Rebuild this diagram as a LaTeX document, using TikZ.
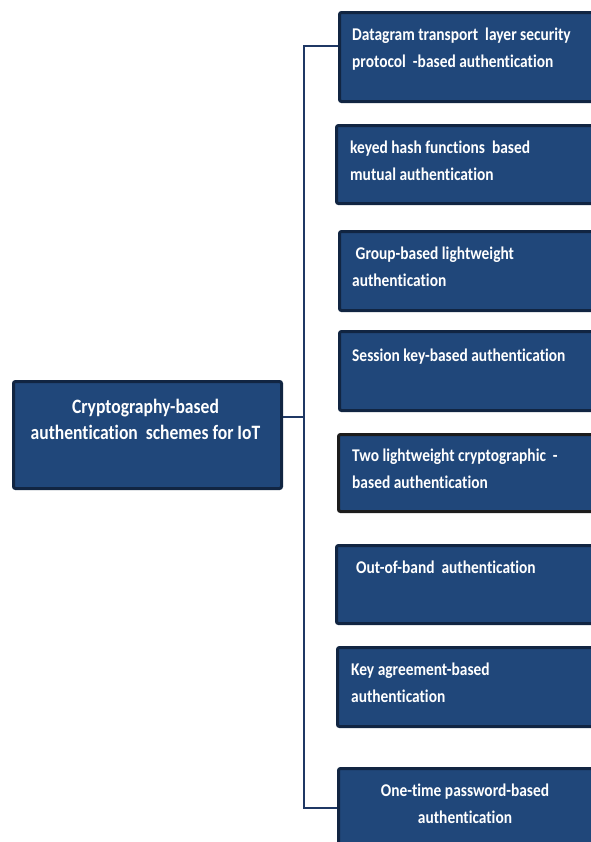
\documentclass[tikz,border=0pt]{standalone}
\usepackage{fontspec}
\setmainfont{Carlito}[FakeStretch=0.86,Ligatures=NoCommon]
\usetikzlibrary{calc}
\definecolor{boxfill}{RGB}{32,71,122}
\definecolor{boxedge}{RGB}{17,37,66}
\definecolor{darkedge}{RGB}{28,28,28}
\definecolor{linecol}{RGB}{31,56,100}
\tikzset{
  box/.style={draw=boxedge, line width=3bp, fill=boxfill, rounded corners=2bp, anchor=north west, inner sep=0pt},
  txt/.style={text=white, font=\bfseries\fontsize{18}{27}\selectfont, inner sep=0pt, align=left, anchor=north west},
  ctxt/.style={text=white, font=\bfseries\fontsize{18}{27}\selectfont, inner sep=0pt, align=center},
  rtxt/.style={text=white, font=\bfseries\fontsize{20.5}{26}\selectfont, inner sep=0pt, align=center},
  conn/.style={draw=linecol, line width=1.2bp}
}
\begin{document}
\begin{tikzpicture}[x=1bp,y=1bp]
\useasboundingbox (0,0) rectangle (591,-842);
\clip (0,0) rectangle (591,-842);
% root
\node[box, minimum width=268bp, minimum height=107bp] (root) at (12,-380) {};
\node[rtxt] (troot) at (145.5,-419) {Cryptography-based\\authentication\ \ schemes for IoT};
% right boxes
\node[box, minimum width=300bp, minimum height=89bp] (b1) at (338,-11) {};
\node[box, minimum width=300bp, minimum height=78bp] (b2) at (335,-124) {};
\node[box, minimum width=300bp, minimum height=79bp] (b3) at (338,-230) {};
\node[box, minimum width=300bp, minimum height=79bp] (b4) at (338,-330) {};
\node[box, draw=darkedge, minimum width=300bp, minimum height=77bp] (b5) at (337,-433) {};
\node[box, minimum width=300bp, minimum height=78bp] (b6) at (335,-544) {};
\node[box, minimum width=300bp, minimum height=79bp] (b7) at (336,-646) {};
\node[box, minimum width=300bp, minimum height=90bp] (b8) at (337,-767) {};
% texts
\node[txt] (t1) at (352,-28) {Datagram transport\ \ layer security\\protocol\ \ -based authentication};
\node[txt] (t2) at (350,-141) {keyed hash functions\ \ based\\mutual authentication};
\node[txt] (t3) at (352,-247) {\ Group-based lightweight\\authentication};
\node[txt] (t4) at (352,-349) {Session key-based authentication};
\node[txt] (t5) at (352,-449) {Two lightweight cryptographic\ \ -\\based authentication};
\node[txt] (t6) at (356,-561) {Out-of-band\ \ authentication};
\node[txt] (t7) at (351,-663) {Key agreement-based\\authentication};
\node[ctxt] (t8) at (465,-804) {One-time password-based\\authentication};
% connectors
\coordinate (jr) at (304,-417);
\coordinate (j1) at (304,-46);
\coordinate (j8) at (304,-808);
\draw[conn] (root.east |- jr) -- (jr);
\draw[conn] (b1.west |- j1) -- (j1) -- (j8) -- (b8.west |- j8);
\end{tikzpicture}
\end{document}
